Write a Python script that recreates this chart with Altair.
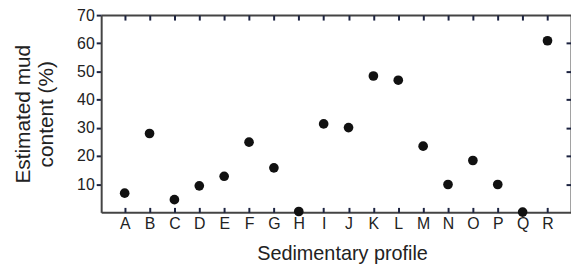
import altair as alt
import pandas as pd

profiles = list("ABCDEFGHIJKLMNOPQR")
mud_content = [6.8, 28.0, 4.5, 9.4, 12.8, 24.9, 15.8, 0.3, 31.4, 30.1,
               48.4, 46.9, 23.5, 9.9, 18.4, 9.9, 0.1, 60.9]
y_tick_values = [10, 20, 30, 40, 50, 60, 70]
y_inner_ticks = [10, 20, 30, 40, 50, 60]

df = pd.DataFrame({"profile": profiles, "mud": mud_content})

FONT = "Liberation Sans"
TXT = "#222222"
FRAME = "#444444"
TICK = "#1c2340"
LW = 2
TW = 2

xscale = alt.Scale(type="point", padding=0.945)
yscale = alt.Scale(domain=[0, 70], nice=False, zero=True)

base = alt.Chart(df)

main = base.mark_circle(size=95, color="#111111", opacity=1).encode(
    x=alt.X("profile:N", sort=profiles, scale=xscale,
            axis=alt.Axis(orient="bottom", title="Sedimentary profile",
                          ticks=False, domain=True, domainColor=FRAME,
                          domainWidth=LW, labelAngle=0, labelPadding=3,
                          titlePadding=13, titleX=243)),
    y=alt.Y("mud:Q", scale=yscale,
            axis=alt.Axis(orient="left", values=y_tick_values,
                          title=["Estimated mud", "content (%)"],
                          titleFontSize=21,
                          tickSize=5, tickWidth=TW, tickColor=TICK,
                          domain=True, domainColor=FRAME, domainWidth=LW,
                          labelPadding=2, titlePadding=20,
                          titleLineHeight=24)),
)

frame = base.mark_circle(opacity=0).encode(
    x=alt.X("profile:N", sort=profiles, scale=xscale,
            axis=alt.Axis(orient="top", title=None, labels=False,
                          ticks=False, domain=True, domainColor=FRAME,
                          domainWidth=LW)),
    y=alt.Y("mud:Q", scale=yscale,
            axis=alt.Axis(orient="right", title=None, labels=False,
                          ticks=False, domain=True, domainColor=FRAME,
                          domainWidth=LW)),
)

ticks_br = base.mark_circle(opacity=0).encode(
    x=alt.X("profile:N", sort=profiles, scale=xscale,
            axis=alt.Axis(orient="bottom", title=None, labels=False,
                          offset=-5, tickSize=5, tickWidth=TW,
                          tickColor=TICK, domain=False)),
    y=alt.Y("mud:Q", scale=yscale,
            axis=alt.Axis(orient="right", title=None, labels=False,
                          values=y_inner_ticks, offset=-5, tickSize=5,
                          tickWidth=TW, tickColor=TICK, domain=False)),
)

ticks_t = base.mark_circle(opacity=0).encode(
    x=alt.X("profile:N", sort=profiles, scale=xscale,
            axis=alt.Axis(orient="top", title=None, labels=False,
                          offset=-5, tickSize=5, tickWidth=TW,
                          tickColor=TICK, domain=False)),
    y=alt.Y("mud:Q", scale=yscale, axis=None),
)

chart = (
    alt.layer(main, frame, ticks_br, ticks_t)
    .resolve_axis(x="independent", y="independent")
    .properties(width=474, height=199,
                autosize=alt.AutoSizeParams(type="none"),
                padding={"left": 94, "top": 6, "right": 0, "bottom": 60})
    .configure_view(strokeWidth=0)
    .configure_axis(grid=False, labelFont=FONT, titleFont=FONT,
                    labelFontSize=16, titleFontSize=20,
                    labelColor=TXT, titleColor=TXT,
                    titleFontWeight="normal")
)

chart.save("out.html", embed_options={"renderer": "svg", "actions": False})
